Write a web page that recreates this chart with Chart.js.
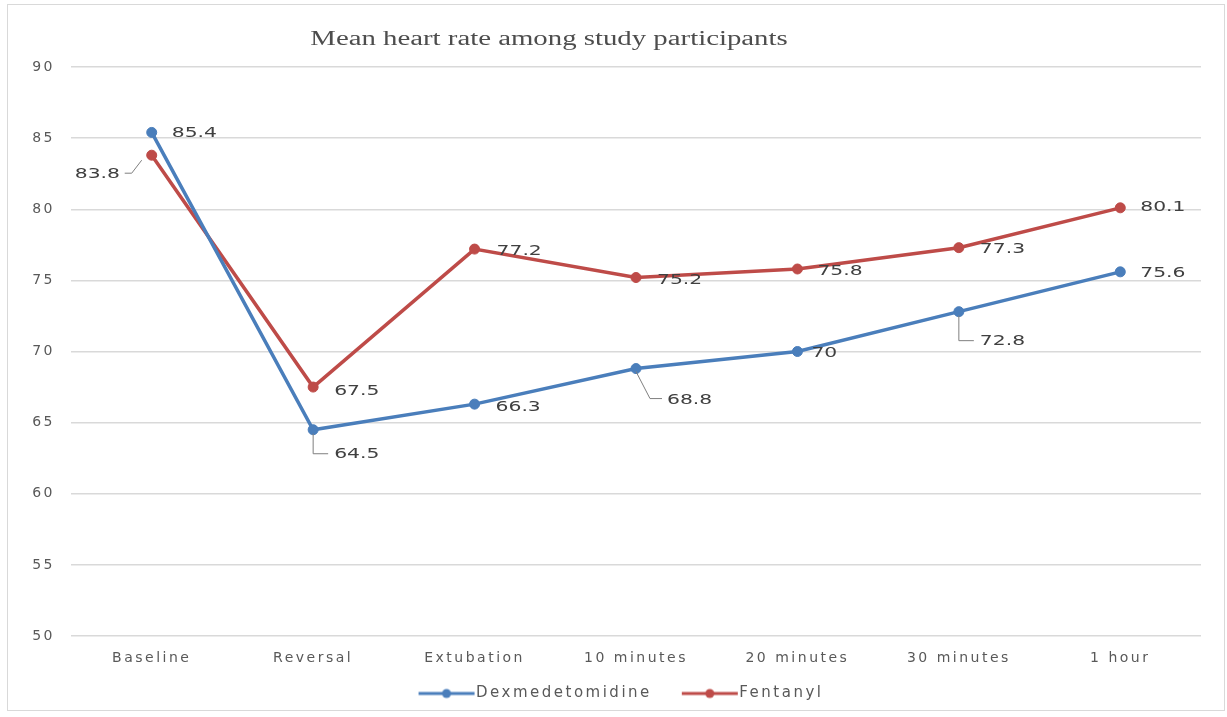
<!DOCTYPE html>
<html>
<head>
<meta charset="utf-8">
<script src="https://cdn.jsdelivr.net/npm/chart.js@4.4.1/dist/chart.umd.min.js"></script>
<style>
  html, body { margin: 0; padding: 0; background: #ffffff; }
  #wrap { width: 1227px; height: 717px; position: relative; }
</style>
</head>
<body>
<div id="wrap"><canvas id="c" width="1227" height="717"></canvas></div>
<script>
// Time points and mean heart rate (beats/min) for each group
const timePoints = ['Baseline', 'Reversal', 'Extubation', '10 minutes', '20 minutes', '30 minutes', '1 hour'];
const dexmedetomidine = [85.4, 64.5, 66.3, 68.8, 70, 72.8, 75.6];
const fentanyl = [83.8, 67.5, 77.2, 75.2, 75.8, 77.3, 80.1];
const yTicks = [50, 55, 60, 65, 70, 75, 80, 85, 90];
const chartTitle = 'Mean heart rate among study participants';

const BLUE = '#4a7ebb';
const RED = '#be4b48';
const TEXT = '#595959';
const SANS = '"DejaVu Sans", "Open Sans", sans-serif';

// Where each value label sits relative to its point: [dx, dy, leader]
// leader: null, or a list of relative points forming the callout line
const dexLabelPlacement = [
  [20, 1, null],
  [21, 25, [[0, 4], [0, 24], [15, 24]]],
  [21, 3, null],
  [31, 32, [[0, 3], [14, 30], [26, 30]]],
  [14, 2, null],
  [21, 30, [[0, 4], [0, 29], [15, 29]]],
  [20, 2, null]
];
const fenLabelPlacement = [
  [-77, 19, [[-10, 5], [-20, 18], [-27, 18]]],
  [21, 4, null],
  [22, 2, null],
  [21, 3, null],
  [20, 2, null],
  [21, 2, null],
  [20, 0, null]
];

// Legend swatch: short line with a round marker, drawn at the right end
// of a wider transparent strip so items keep a gap between them
function legendSwatch(color) {
  const cv = document.createElement('canvas');
  cv.width = 84; cv.height = 12;
  const g = cv.getContext('2d');
  g.strokeStyle = color; g.lineWidth = 3;
  g.beginPath(); g.moveTo(27, 6); g.lineTo(83, 6); g.stroke();
  g.fillStyle = color;
  g.beginPath(); g.arc(55, 6, 4.5, 0, Math.PI * 2); g.fill();
  return cv;
}

// Wide lettering for axis and legend text; legend nudged right
const spacing = {
  id: 'spacing',
  beforeUpdate(chart) { chart.ctx.letterSpacing = '2.5px'; },
  afterLayout(chart) {
    if (chart.legend) { chart.legend.left += 6; chart.legend.right += 6; }
  },
  beforeDraw(chart) { chart.ctx.letterSpacing = '2.5px'; }
};

const frame = {
  id: 'frame',
  beforeDraw(chart) {
    const ctx = chart.ctx;
    ctx.save();
    ctx.fillStyle = '#ffffff';
    ctx.fillRect(0, 0, chart.width, chart.height);
    ctx.strokeStyle = '#d9d9d9';
    ctx.lineWidth = 1;
    ctx.strokeRect(7.5, 4.5, 1217, 706);
    // title, horizontally stretched
    ctx.letterSpacing = '0px';
    ctx.font = '20px "Liberation Serif", "Times New Roman", serif';
    ctx.fillStyle = '#4d4d4d';
    ctx.textAlign = 'center';
    ctx.textBaseline = 'middle';
    ctx.translate(549, 40);
    ctx.scale(1.44, 1);
    ctx.fillText(chartTitle, 0, 0);
    ctx.restore();
  }
};

const valueLabels = {
  id: 'valueLabels',
  afterDatasetsDraw(chart) {
    const ctx = chart.ctx;
    const placements = [dexLabelPlacement, fenLabelPlacement];
    chart.data.datasets.forEach((ds, di) => {
      const meta = chart.getDatasetMeta(di);
      meta.data.forEach((pt, i) => {
        const [dx, dy, leader] = placements[di][i];
        ctx.save();
        if (leader) {
          ctx.strokeStyle = '#7f7f7f';
          ctx.lineWidth = 1;
          ctx.beginPath();
          leader.forEach(([lx, ly], k) => {
            if (k === 0) ctx.moveTo(pt.x + lx, pt.y + ly);
            else ctx.lineTo(pt.x + lx, pt.y + ly);
          });
          ctx.stroke();
        }
        ctx.letterSpacing = '0px';
        ctx.font = '14px ' + SANS;
        ctx.fillStyle = '#404040';
        ctx.textBaseline = 'middle';
        ctx.textAlign = 'left';
        ctx.translate(pt.x + dx, pt.y + dy);
        ctx.scale(1.45, 1);
        ctx.fillText(String(ds.data[i]), 0, 0);
        ctx.restore();
      });
    });
  }
};

new Chart(document.getElementById('c'), {
  type: 'line',
  data: {
    labels: timePoints,
    datasets: [
      {
        label: 'Dexmedetomidine',
        data: dexmedetomidine,
        borderColor: BLUE,
        backgroundColor: BLUE,
        borderWidth: 3.5,
        pointRadius: 5,
        pointBorderWidth: 1,
        tension: 0
      },
      {
        label: 'Fentanyl',
        data: fentanyl,
        borderColor: RED,
        backgroundColor: RED,
        borderWidth: 3.5,
        pointRadius: 5,
        pointBorderWidth: 1,
        tension: 0
      }
    ]
  },
  options: {
    responsive: false,
    animation: false,
    layout: { padding: { left: 9, right: 26, top: 67, bottom: 6 } },
    scales: {
      x: {
        offset: true,
        grid: { display: false, drawTicks: false },
        border: { display: false },
        ticks: {
          color: TEXT,
          font: { family: SANS, size: 14 },
          padding: 14,
          maxRotation: 0
        },
        afterFit(s) { s.height = 40; }
      },
      y: {
        min: 50,
        max: 90,
        afterBuildTicks(s) { s.ticks = yTicks.map(v => ({ value: v })); },
        grid: { color: '#d9d9d9', lineWidth: 1.5, drawTicks: false },
        border: { display: false },
        ticks: {
          color: TEXT,
          font: { family: SANS, size: 14 },
          padding: 16
        },
        afterFit(s) { s.width = 62; }
      }
    },
    plugins: {
      title: { display: false },
      legend: {
        position: 'bottom',
        labels: {
          color: TEXT,
          font: { family: SANS, size: 15 },
          padding: 10,
          usePointStyle: true,
          pointStyleWidth: 70,
          generateLabels(chart) {
            return chart.data.datasets.map((ds, i) => ({
              text: ds.label,
              pointStyle: legendSwatch(ds.borderColor),
              fillStyle: ds.borderColor,
              strokeStyle: ds.borderColor,
              fontColor: TEXT,
              lineWidth: 0,
              datasetIndex: i,
              hidden: false
            }));
          }
        }
      },
      tooltip: { enabled: false }
    }
  },
  plugins: [spacing, frame, valueLabels]
});
</script>
</body>
</html>
